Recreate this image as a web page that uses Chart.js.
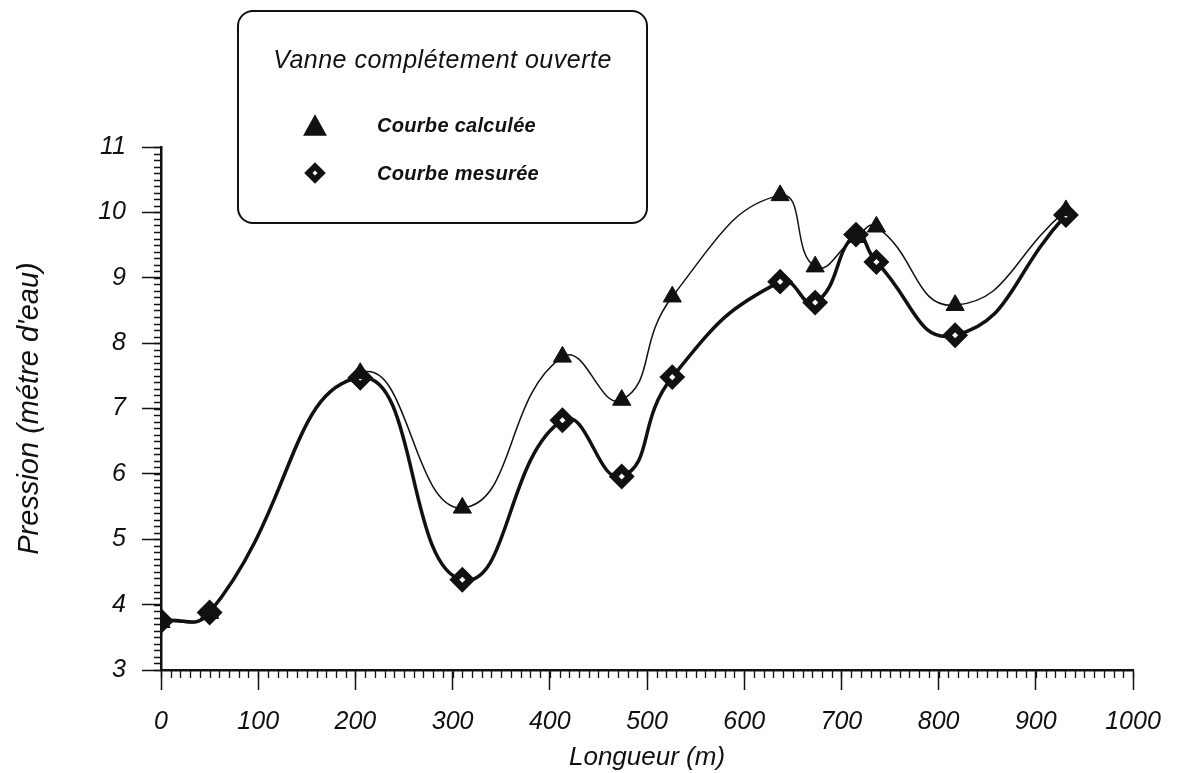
<!DOCTYPE html>
<html lang="fr">
<head>
<meta charset="utf-8">
<title>Pression le long de la conduite</title>
<script src="https://cdn.jsdelivr.net/npm/chart.js@4.4.1/dist/chart.umd.min.js"></script>
<style>
  body { margin: 0; background: #fff; }
  #wrap { position: relative; width: 1180px; height: 773px; }
  #legend {
    position: absolute; left: 237px; top: 10px; width: 407px; height: 210px;
    border: 2px solid #111; border-radius: 16px; background: #fff;
    font-family: "Liberation Sans", Arial, sans-serif; color: #111;
  }
  #legend .title { position: absolute; left: 0; right: 0; top: 33px; text-align: center; font-style: italic; font-size: 25px; letter-spacing: 0.5px; }
  #legend .item { position: absolute; left: 138px; font-style: italic; font-weight: bold; font-size: 20px; letter-spacing: 0.3px; }
  #legend .sym { position: absolute; left: 63px; width: 26px; height: 26px; }
</style>
</head>
<body>
<div id="wrap">
  <canvas id="pressionChart" width="1180" height="773"></canvas>
  <div id="legend"></div>
</div>
<script>
// Longueur le long de la conduite (m)
const longueurs = [0, 50, 205, 310, 413, 474, 526, 637, 673, 715, 736, 817, 931];
// Pression calculée (m d'eau)
const pressionCalculee = [3.73, 3.87, 7.54, 5.48, 7.79, 7.13, 8.71, 10.26, 9.17, 9.62, 9.78, 8.58, 10.03];
// Pression mesurée (m d'eau)
const pressionMesuree = [3.75, 3.88, 7.47, 4.38, 6.82, 5.96, 7.48, 8.94, 8.62, 9.66, 9.24, 8.12, 9.96];

const xTicks = [0, 100, 200, 300, 400, 500, 600, 700, 800, 900, 1000];
const yTicks = [3, 4, 5, 6, 7, 8, 9, 10, 11];

const legendTitle = 'Vanne complétement ouverte';
const seriesNames = ['Courbe calculée', 'Courbe mesurée'];

const FONT = '"Liberation Sans", Arial, sans-serif';

function toPoints(values) {
  return longueurs.map((x, i) => ({ x: x, y: values[i] }));
}

// Petites graduations (10 m en x, 0,1 m en y)
const minorTicks = {
  id: 'minorTicks',
  afterDraw(chart) {
    const { ctx, scales: { x, y } } = chart;
    ctx.save();
    ctx.strokeStyle = '#111';
    ctx.lineWidth = 1.3;
    ctx.beginPath();
    for (let i = 0; i <= 100; i++) {
      const px = Math.round(x.getPixelForValue(i * 10)) + 0.5;
      ctx.moveTo(px, y.bottom);
      ctx.lineTo(px, y.bottom + 8);
    }
    for (let i = 0; i <= 80; i++) {
      const py = Math.round(y.getPixelForValue(3 + i / 10)) + 0.5;
      ctx.moveTo(x.left, py);
      ctx.lineTo(x.left - 7, py);
    }
    ctx.stroke();
    ctx.restore();
  }
};

const ctx = document.getElementById('pressionChart').getContext('2d');
const chart = new Chart(ctx, {
  type: 'line',
  data: {
    datasets: [
      {
        label: seriesNames[0],
        data: toPoints(pressionCalculee),
        borderColor: '#111',
        borderWidth: 1.5,
        tension: 0.5,
        pointStyle: 'triangle',
        pointRadius: 10.5,
        pointBackgroundColor: '#111',
        pointBorderColor: '#111',
        pointBorderWidth: 1,
        order: 0
      },
      {
        label: seriesNames[1],
        data: toPoints(pressionMesuree),
        borderColor: '#111',
        borderWidth: 3.5,
        tension: 0.5,
        pointStyle: 'rectRot',
        pointRadius: 8,
        pointBackgroundColor: '#fff',
        pointBorderColor: '#111',
        pointBorderWidth: 7,
        order: 1
      }
    ]
  },
  options: {
    responsive: false,
    animation: false,
    devicePixelRatio: 1,
    layout: { padding: { top: 147, right: 47, left: 0, bottom: 0 } },
    plugins: { legend: { display: false }, tooltip: { enabled: false } },
    scales: {
      x: {
        type: 'linear',
        min: 0,
        max: 1000,
        afterFit(scale) { scale.height = 103; },
        afterBuildTicks(scale) { scale.ticks = xTicks.map(v => ({ value: v })); },
        grid: { drawOnChartArea: false, tickLength: 20, tickColor: '#111', tickWidth: 1.5 },
        border: { color: '#111', width: 2.5 },
        ticks: {
          color: '#111', padding: 17, maxRotation: 0,
          font: { family: FONT, size: 25, style: 'italic' },
          callback: v => String(v)
        },
        title: { display: true, text: 'Longueur (m)', color: '#111', padding: { top: 0, bottom: 0 }, font: { family: FONT, size: 26, style: 'italic' } }
      },
      y: {
        type: 'linear',
        min: 3,
        max: 11,
        afterFit(scale) { scale.width = 161; },
        afterBuildTicks(scale) { scale.ticks = yTicks.map(v => ({ value: v })); },
        grid: { drawOnChartArea: false, tickLength: 19, tickColor: '#111', tickWidth: 1.5 },
        border: { color: '#111', width: 2.5 },
        ticks: {
          color: '#111', padding: 16,
          font: { family: FONT, size: 25, style: 'italic' },
          callback: v => String(v)
        },
        title: { display: true, text: "Pression (métre d'eau)", color: '#111', padding: { top: 13, bottom: 0 }, font: { family: FONT, size: 29, style: 'italic' } }
      }
    }
  },
  plugins: [minorTicks]
});

// Légende encadrée, construite à partir des jeux de données
function buildLegend(chart) {
  const box = document.getElementById('legend');
  let html = `<div class="title">${legendTitle}</div>`;
  const tops = [100, 148];
  chart.data.datasets.forEach((ds, i) => {
    const sym = ds.pointStyle === 'triangle'
      ? '<svg class="sym" style="top:' + tops[i] + 'px" viewBox="0 0 24 24"><polygon points="12,2 23,22 1,22" fill="#111"/></svg>'
      : '<svg class="sym" style="top:' + tops[i] + 'px" viewBox="0 0 24 24"><polygon points="12,2 22,12 12,22 2,12" fill="#111"/><polygon points="12,9.7 14.3,12 12,14.3 9.7,12" fill="#fff"/></svg>';
    html += sym + `<div class="item" style="top:${tops[i] + 2}px">${ds.label}</div>`;
  });
  box.innerHTML = html;
}
buildLegend(chart);
</script>
</body>
</html>
